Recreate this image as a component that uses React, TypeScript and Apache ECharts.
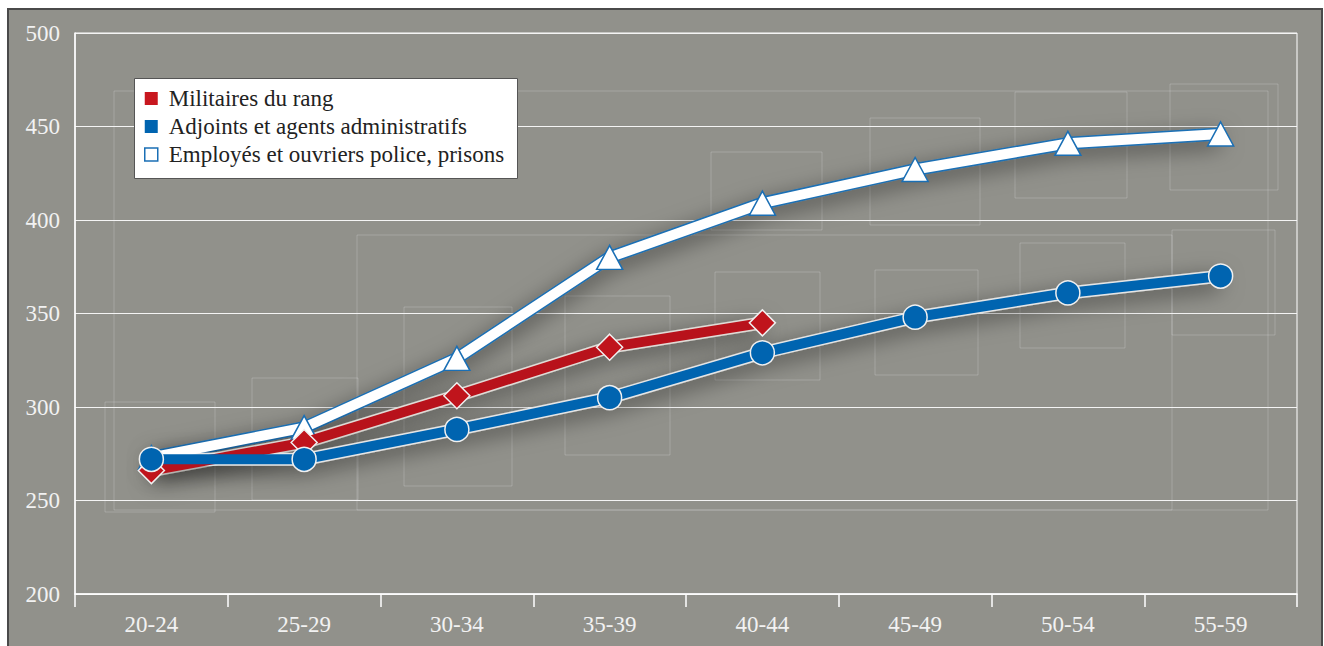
import React, { useEffect, useRef } from "react";
import * as echarts from "echarts";

const categories = ["20-24", "25-29", "30-34", "35-39", "40-44", "45-49", "50-54", "55-59"];
const militaires = [266, 281, 306, 332, 345];
const adjoints = [272, 272, 288, 305, 329, 348, 361, 370];
const employes = [273, 289, 326, 380, 409, 427, 441, 446];
const seriesNames = [
  "Militaires du rang",
  "Adjoints et agents administratifs",
  "Employés et ouvriers police, prisons",
];
const yTicks = { min: 200, max: 500, interval: 50 };

const FONT = "Liberation Serif";
const BG = "#91918b";
const RED = "#b8121b";
const BLUE = "#0064b0";

const decoRects = [
  [114, 91, 1154, 419],
  [105, 402, 110, 110],
  [252, 378, 106, 122],
  [404, 307, 108, 179],
  [565, 296, 105, 159],
  [711, 152, 111, 78],
  [715, 272, 105, 108],
  [870, 118, 110, 107],
  [875, 270, 103, 105],
  [1015, 92, 112, 106],
  [1020, 243, 105, 105],
  [1170, 84, 108, 106],
  [1172, 230, 103, 105],
  [357, 235, 815, 275],
];

export default function App() {
  const ref = useRef<HTMLDivElement>(null);
  useEffect(() => {
    if (!ref.current) return;
    const chart = echarts.init(ref.current, undefined, { renderer: "svg" });

    const underlay = (name: string, data: number[], color: string) => ({
      name,
      type: "line",
      data,
      showSymbol: false,
      silent: true,
      z: 2,
      lineStyle: {
        width: 13,
        color,
        shadowBlur: 22,
        shadowColor: "rgba(0,0,0,0.5)",
        shadowOffsetY: 6,
      },
    });

    chart.setOption({
      animation: false,
      backgroundColor: "#ffffff",
      graphic: [
        {
          type: "rect",
          z: -10,
          silent: true,
          shape: { x: 8, y: 9, width: 1314, height: 660 },
          style: { fill: BG, stroke: "#4a4a4a", lineWidth: 2 },
        },
        ...decoRects.map(([x, y, w, h]) => ({
          type: "rect",
          z: -5,
          silent: true,
          shape: { x, y, width: w, height: h },
          style: { fill: "none", stroke: "rgba(255,255,255,0.2)", lineWidth: 1 },
        })),
        {
          type: "rect",
          z: 50,
          silent: true,
          shape: { x: 134.5, y: 78.5, width: 383, height: 100 },
          style: { fill: "#ffffff", stroke: "#555555", lineWidth: 1 },
        },
      ],
      legend: {
        show: true,
        z: 60,
        orient: "vertical",
        left: 144,
        top: 87,
        padding: [0, 0, 0, 0],
        itemGap: 5,
        itemWidth: 13,
        itemHeight: 13,
        icon: "rect",
        selectedMode: false,
        textStyle: { fontFamily: FONT, fontSize: 23, color: "#222222", padding: [0, 0, 0, 6] },
        data: [
          { name: seriesNames[0], itemStyle: { color: "#c8171f", borderWidth: 0 } },
          { name: seriesNames[1], itemStyle: { color: BLUE, borderWidth: 0 } },
          { name: seriesNames[2], itemStyle: { color: "#ffffff", borderColor: "#1a6fb5", borderWidth: 1.5 } },
        ],
      },
      grid: {
        left: 75,
        right: 27,
        top: 33,
        bottom: 52,
        show: true,
        borderColor: "#ffffff",
        borderWidth: 1,
        backgroundColor: "transparent",
      },
      xAxis: {
        type: "category",
        data: categories,
        boundaryGap: true,
        axisLine: { show: true, lineStyle: { color: "#ffffff", width: 1.5 } },
        axisTick: { show: true, length: 13, lineStyle: { color: "#ffffff", width: 1.5 } },
        axisLabel: { color: "#f2f2f2", fontFamily: FONT, fontSize: 23, margin: 19 },
        splitLine: { show: false },
      },
      yAxis: {
        type: "value",
        min: yTicks.min,
        max: yTicks.max,
        interval: yTicks.interval,
        axisLine: { show: true, lineStyle: { color: "#ffffff", width: 1.5 } },
        axisTick: { show: false },
        axisLabel: { color: "#f2f2f2", fontFamily: FONT, fontSize: 23, margin: 15 },
        splitLine: { show: true, lineStyle: { color: "#f4f4f4", width: 1.2 } },
      },
      series: [
        underlay("_emp", employes, "#1a6fb5"),
        {
          name: seriesNames[2],
          type: "line",
          data: employes,
          z: 3,
          symbol: "triangle",
          symbolSize: [26, 24],
          lineStyle: { width: 10, color: "#ffffff" },
          itemStyle: { color: "#ffffff", borderColor: "#1a6fb5", borderWidth: 1.5 },
        },
        underlay("_mil", militaires, "#e0ddd8"),
        {
          name: seriesNames[0],
          type: "line",
          data: militaires,
          z: 4,
          symbol: "diamond",
          symbolSize: [26, 26],
          lineStyle: { width: 10, color: RED },
          itemStyle: { color: "#c0141c", borderColor: "#f0f0f0", borderWidth: 1.5 },
        },
        underlay("_adj", adjoints, "#e6e6e6"),
        {
          name: seriesNames[1],
          type: "line",
          data: adjoints,
          z: 5,
          symbol: "circle",
          symbolSize: 24,
          lineStyle: { width: 10, color: BLUE },
          itemStyle: { color: BLUE, borderColor: "#f0f0f0", borderWidth: 1.5 },
        },
      ],
    });
    return () => chart.dispose();
  }, []);
  return (
    <div
      ref={ref}
      style={{ position: "fixed", left: 0, top: 0, width: 1324, height: 646 }}
    />
  );
}
